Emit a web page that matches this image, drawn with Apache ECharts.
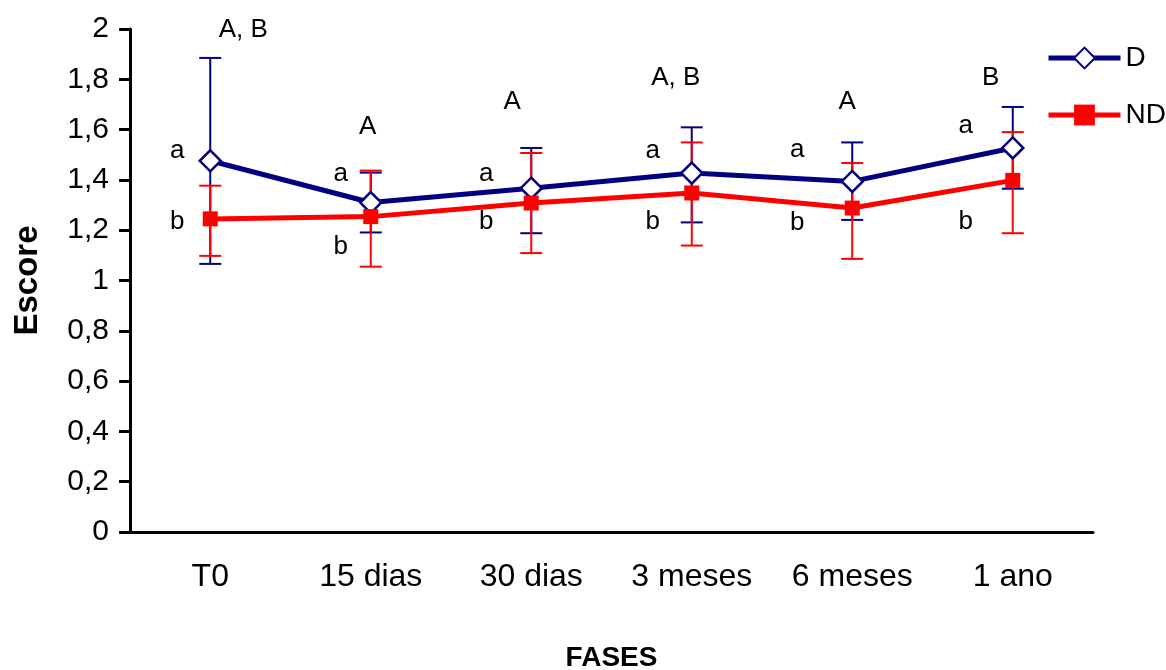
<!DOCTYPE html>
<html>
<head>
<meta charset="utf-8">
<script src="https://cdn.jsdelivr.net/npm/echarts@6/dist/echarts.min.js"></script>
<style>
html,body{margin:0;padding:0;background:#fff;}
#chart{width:1166px;height:670px;}
</style>
</head>
<body>
<div id="chart"></div>
<script>
// ---- data ----
var categories = ['T0', '15 dias', '30 dias', '3 meses', '6 meses', '1 ano'];
var dMean = [1.476, 1.310, 1.367, 1.427, 1.394, 1.527];
var dLow  = [1.066, 1.191, 1.188, 1.231, 1.241, 1.365];
var dHigh = [1.885, 1.429, 1.527, 1.609, 1.549, 1.690];
var ndMean = [1.245, 1.254, 1.308, 1.348, 1.288, 1.398];
var ndLow  = [1.098, 1.055, 1.109, 1.139, 1.086, 1.188];
var ndHigh = [1.377, 1.437, 1.507, 1.549, 1.467, 1.590];
var yTicks = [0, 0.2, 0.4, 0.6, 0.8, 1, 1.2, 1.4, 1.6, 1.8, 2];
// significance annotations (text and the value level they sit at)
var upperText = ['A, B', 'A', 'A', 'A, B', 'A', 'B'];
var upperLevel = [1.997, 1.611, 1.711, 1.806, 1.711, 1.806];
var lowerAText = ['a', 'a', 'a', 'a', 'a', 'a'];
var lowerALevel = [1.516, 1.424, 1.424, 1.516, 1.520, 1.615];
var lowerBText = ['b', 'b', 'b', 'b', 'b', 'b'];
var lowerBLevel = [1.233, 1.134, 1.233, 1.233, 1.229, 1.233];

// ---- layout constants (horizontal text offsets in px) ----
var upperDx = [33, -3, -19, -16, -5, -22];
var lowerDx = [-33, -30, -45, -39, -55, -47];

var NAVY = '#000080', RED = '#ff0000';
var FONT = '"Liberation Sans", Arial, sans-serif';

function errData(low, high) {
  return categories.map(function (c, i) { return [i, low[i], high[i]]; });
}
function errSeries(name, low, high, color, z) {
  return {
    type: 'custom',
    name: name + '_err',
    z: z,
    silent: true,
    data: errData(low, high),
    encode: { x: 0, y: [1, 2] },
    renderItem: function (params, api) {
      var x = api.value(0);
      var lo = api.coord([x, api.value(1)]);
      var hi = api.coord([x, api.value(2)]);
      var cap = 11;
      var st = { stroke: color, lineWidth: 2 };
      return {
        type: 'group',
        children: [
          { type: 'line', shape: { x1: lo[0], y1: lo[1], x2: hi[0], y2: hi[1] }, style: st },
          { type: 'line', shape: { x1: lo[0] - cap, y1: lo[1], x2: lo[0] + cap, y2: lo[1] }, style: st },
          { type: 'line', shape: { x1: hi[0] - cap, y1: hi[1], x2: hi[0] + cap, y2: hi[1] }, style: st }
        ]
      };
    }
  };
}
function annoSeries(texts, levels, dx) {
  return {
    type: 'scatter',
    silent: true,
    symbolSize: 0,
    z: 10,
    itemStyle: { opacity: 1, color: '#000' },
    data: texts.map(function (t, i) {
      return {
        name: t,
        value: [i, levels[i]],
        label: { offset: [dx[i], 0] }
      };
    }),
    label: {
      show: true,
      position: 'inside',
      formatter: function (p) { return p.name; },
      color: '#000',
      opacity: 1,
      textBorderWidth: 0,
      textBorderColor: 'transparent',
      fontFamily: FONT,
      fontSize: 26
    }
  };
}

var chart = echarts.init(document.getElementById('chart'), null, { renderer: 'canvas' });
chart.setOption({
  backgroundColor: '#fff',
  animation: false,
  grid: { left: 130, right: 73, top: 29, bottom: 138, containLabel: false, outerBoundsMode: 'none' },
  legend: {
    data: [{ name: 'D' }, { name: 'ND' }],
    orient: 'vertical',
    left: 1041,
    top: 39,
    itemWidth: 72,
    itemHeight: 26,
    itemGap: 29,
    lineStyle: { width: 5 },
    textStyle: { fontFamily: FONT, fontSize: 28, lineHeight: 26, color: '#000' }
  },
  xAxis: {
    type: 'category',
    data: categories,
    boundaryGap: true,
    name: 'FASES',
    nameLocation: 'middle',
    nameGap: 112,
    nameTextStyle: { fontFamily: FONT, fontSize: 28, fontWeight: 'bold', color: '#000' },
    axisLine: { lineStyle: { color: '#000', width: 3 } },
    axisTick: { show: false },
    axisLabel: { fontFamily: FONT, fontSize: 32, color: '#000', margin: 29 },
    splitLine: { show: false }
  },
  yAxis: {
    type: 'value',
    min: 0,
    max: 2,
    interval: 0.2,
    name: 'Escore',
    nameLocation: 'middle',
    nameGap: 86,
    nameRotate: 90,
    nameTextStyle: { fontFamily: FONT, fontSize: 33, fontWeight: 'bold', color: '#000' },
    axisLine: { show: true, lineStyle: { color: '#000', width: 3 } },
    axisTick: { show: true, inside: false, length: 11, lineStyle: { color: '#000', width: 3 } },
    axisLabel: {
      fontFamily: FONT, fontSize: 30, color: '#000', margin: 21,
      formatter: function (v) {
        var t = yTicks.reduce(function (a, b) { return Math.abs(b - v) < Math.abs(a - v) ? b : a; });
        return String(t).replace('.', ',');
      }
    },
    splitLine: { show: false }
  },
  series: [
    errSeries('D', dLow, dHigh, NAVY, 1),
    errSeries('ND', ndLow, ndHigh, RED, 2),
    {
      name: 'D',
      type: 'line',
      z: 3,
      data: dMean,
      symbol: 'diamond',
      symbolSize: 21,
      showAllSymbol: true,
      lineStyle: { color: NAVY, width: 5 },
      itemStyle: { color: '#fff', borderColor: NAVY, borderWidth: 2.5 },
      emphasis: { disabled: true }
    },
    {
      name: 'ND',
      type: 'line',
      z: 4,
      data: ndMean,
      symbol: 'rect',
      symbolSize: 15,
      showAllSymbol: true,
      lineStyle: { color: RED, width: 5 },
      itemStyle: { color: RED, borderColor: RED, borderWidth: 0 },
      emphasis: { disabled: true }
    },
    annoSeries(upperText, upperLevel, upperDx),
    annoSeries(lowerAText, lowerALevel, lowerDx),
    annoSeries(lowerBText, lowerBLevel, lowerDx)
  ]
});
</script>
</body>
</html>
